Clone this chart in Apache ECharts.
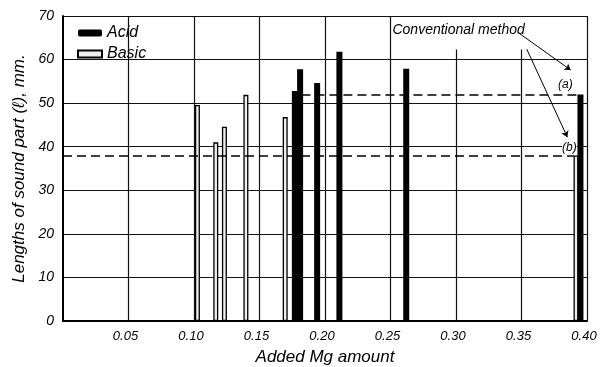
<!DOCTYPE html>
<html><head><meta charset="utf-8">
<script src="https://cdn.jsdelivr.net/npm/echarts@6/dist/echarts.min.js"></script>
<style>html,body{margin:0;padding:0;background:#fff}#c{width:603px;height:367px}</style>
</head><body><div id="c"></div>
<script>
const acidX = [0.177, 0.181, 0.194, 0.211, 0.262, 0.395];
const acidY = [52.8, 57.8, 54.6, 61.8, 57.9, 52];
const basicX = [0.103, 0.117, 0.1236, 0.140, 0.170, 0.392];
const basicY = [49.6, 41, 44.6, 51.9, 46.8, 38];
const xTicks = [0.05, 0.10, 0.15, 0.20, 0.25, 0.30, 0.35, 0.40];
const yTicks = [0, 10, 20, 30, 40, 50, 60, 70];
const convA = 52, convB = 38;

const F = '"Liberation Sans", sans-serif';
const gridStyle = {type: 'solid', color: '#111', width: 1.2};
const vLines = xTicks.map(x => {
  const top = (x > 0.28 && x < 0.37) ? 62.3 : 70;
  return [{coord: [x, 0], lineStyle: gridStyle}, {coord: [x, top]}];
});

const chart = echarts.init(document.getElementById('c'));
chart.setOption({
  animation: false,
  backgroundColor: '#fff',
  grid: {left: 63, right: 16, top: 16, bottom: 46, containLabel: false, outerBoundsMode: 'none'},
  legend: {
    orient: 'vertical', left: 72, top: 20, itemWidth: 24, itemHeight: 7, itemGap: 5,
    textStyle: {fontFamily: F, fontStyle: 'italic', fontSize: 16, color: '#000'},
    data: [{name: 'Acid', icon: 'roundRect'}, {name: 'Basic', icon: 'rect'}]
  },
  xAxis: {
    type: 'value', min: 0, max: 0.40, interval: 0.05,
    name: 'Added Mg amount', nameLocation: 'middle', nameGap: 28,
    nameTextStyle: {fontFamily: F, fontStyle: 'italic', fontSize: 17, color: '#000'},
    axisLine: {lineStyle: {color: '#000', width: 2}},
    axisTick: {show: false},
    axisLabel: {fontFamily: F, fontStyle: 'italic', fontSize: 13, color: '#000', margin: 9,
      padding: [0, 6, 0, 0],
      formatter: v => (xTicks.some(t => Math.abs(t - v) < 1e-6) ? v.toFixed(2) : '')},
    splitLine: {show: false}
  },
  yAxis: {
    type: 'value', min: 0, max: 70, interval: 10,
    name: 'Lengths of sound part (ℓ), mm.', nameLocation: 'middle', nameGap: 29,
    nameTextStyle: {fontFamily: F, fontStyle: 'italic', fontSize: 17, color: '#000'},
    axisLine: {show: true, lineStyle: {color: '#000', width: 2}},
    axisTick: {show: false},
    axisLabel: {fontFamily: F, fontStyle: 'italic', fontSize: 14, color: '#000', margin: 9,
      formatter: v => (yTicks.includes(v) ? String(v) : '')},
    splitLine: {show: true, lineStyle: {color: '#111', width: 1.2}}
  },
  series: [
    {
      name: 'Basic', type: 'bar', barWidth: 5, barGap: '-100%', z: 3,
      itemStyle: {color: '#eeeeee', borderColor: '#000', borderWidth: 1.3},
      data: basicX.map((x, i) => [x, basicY[i]])
    },
    {
      name: 'Acid', type: 'bar', barWidth: 6, barGap: '-100%', z: 4,
      itemStyle: {color: '#000'},
      data: acidX.map((x, i) => [x, acidY[i]])
    },
    {
      name: 'grid', type: 'line', data: [], silent: true, z: 1,
      markLine: {silent: true, symbol: 'none', animation: false, label: {show: false}, data: vLines}
    },
    {
      name: 'ann', type: 'line', data: [], silent: true, z: 5,
      markLine: {
        silent: true, symbol: 'none', animation: false,
        label: {show: false},
        data: [
          [{coord: [0.182, convA], lineStyle: {type: [9, 5], color: '#000', width: 1.6}}, {coord: [0.393, convA]}],
          [{coord: [0, convB], lineStyle: {type: [9, 5], color: '#000', width: 1.6}}, {coord: [0.390, convB]}],
          [{coord: [0.347, 66.3], symbol: 'none', lineStyle: {type: 'solid', color: '#000', width: 1}},
           {coord: [0.3875, 57.6], symbol: 'arrow', symbolSize: 6}],
          [{coord: [0.354, 62.4], symbol: 'none', lineStyle: {type: 'solid', color: '#000', width: 1, curveness: 0.25}},
           {coord: [0.385, 42.2], symbol: 'arrow', symbolSize: 6}]
        ]
      },
      markPoint: {
        silent: true, symbol: 'circle', symbolSize: 0,
        label: {show: true, color: '#000', fontFamily: F, fontStyle: 'italic', position: 'inside'},
        data: [
          {coord: [0.302, 66.7], value: 'Conventional method', label: {fontSize: 14, formatter: 'Conventional method'}},
          {coord: [0.3835, 54.3], value: '(a)', label: {fontSize: 12, formatter: '(a)', backgroundColor: '#fff'}},
          {coord: [0.3865, 39.7], value: '(b)', label: {fontSize: 12, formatter: '(b)', backgroundColor: '#fff'}}
        ]
      }
    }
  ]
});
</script></body></html>
